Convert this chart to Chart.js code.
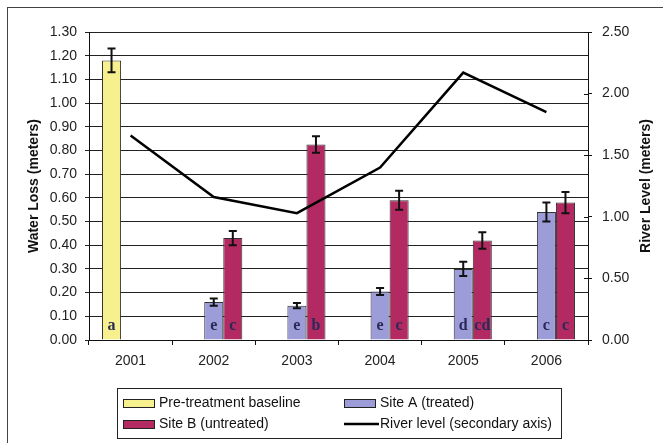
<!DOCTYPE html>
<html>
<head>
<meta charset="utf-8">
<script src="https://cdn.jsdelivr.net/npm/chart.js@4.4.1/dist/chart.umd.min.js"></script>
<style>
  html, body { margin: 0; padding: 0; background: #fff; }
  #wrap { width: 663px; height: 443px; position: relative; }
</style>
</head>
<body>
<div id="wrap"><canvas id="waterChart" width="663" height="443"></canvas></div>
<script>
// data
var years = ['2001', '2002', '2003', '2004', '2005', '2006'];

var baseline    = [1.18, null, null, null, null, null];
var baselineErr = [0.05, null, null, null, null, null];
var baselineTag = ['a', null, null, null, null, null];

var siteA    = [null, 0.16, 0.145, 0.205, 0.30, 0.54];
var siteAErr = [null, 0.015, 0.011, 0.015, 0.03, 0.04];
var siteATag = [null, 'e', 'e', 'e', 'd', 'c'];

var siteB    = [null, 0.43, 0.825, 0.59, 0.42, 0.58];
var siteBErr = [null, 0.03, 0.035, 0.04, 0.035, 0.045];
var siteBTag = [null, 'c', 'b', 'c', 'cd', 'c'];

var riverLevel = [1.66, 1.16, 1.03, 1.40, 2.17, 1.85];

var FONT = "'Liberation Sans', Arial, sans-serif";

// frame + axis titles + right-axis cross ticks
var decorPlugin = {
    id: 'decor',
    beforeDraw: function (chart) {
        var ctx = chart.ctx;
        ctx.save();
        ctx.fillStyle = '#fff';
        ctx.fillRect(0, 0, chart.width, chart.height);
        ctx.strokeStyle = '#444';
        ctx.lineWidth = 1;
        ctx.strokeRect(7.5, 7.5, 700, 500);
        ctx.restore();
    },
    afterDraw: function (chart) {
        var ctx = chart.ctx, area = chart.chartArea;
        var mid = (area.top + area.bottom) / 2;
        ctx.save();
        ctx.fillStyle = '#111';
        ctx.font = 'bold 14px ' + FONT;
        ctx.textAlign = 'center';
        ctx.textBaseline = 'middle';
        ctx.translate(34, mid);
        ctx.rotate(-Math.PI / 2);
        ctx.fillText('Water Loss (meters)', 0, 0);
        ctx.restore();

        ctx.save();
        ctx.fillStyle = '#111';
        ctx.font = 'bold 14px ' + FONT;
        ctx.textAlign = 'center';
        ctx.textBaseline = 'middle';
        ctx.translate(646, mid);
        ctx.rotate(-Math.PI / 2);
        ctx.fillText('River Level (meters)', 0, 0);
        ctx.restore();

        // inner half of the right axis ticks
        var y1 = chart.scales.y1;
        ctx.save();
        ctx.strokeStyle = '#111';
        ctx.lineWidth = 1;
        y1.ticks.forEach(function (t) {
            var py = Math.round(y1.getPixelForValue(t.value)) + 0.5;
            ctx.beginPath();
            ctx.moveTo(area.right - 4, py);
            ctx.lineTo(area.right, py);
            ctx.stroke();
        });
        ctx.restore();
    }
};

// error bars and letter tags on the bars
var errPlugin = {
    id: 'errBars',
    afterDatasetsDraw: function (chart) {
        var ctx = chart.ctx, y = chart.scales.y;
        var errs = [baselineErr, siteAErr, siteBErr];
        var tags = [baselineTag, siteATag, siteBTag];
        ctx.save();
        for (var d = 0; d < 3; d++) {
            var meta = chart.getDatasetMeta(d);
            var vals = chart.data.datasets[d].data;
            meta.data.forEach(function (bar, i) {
                if (vals[i] == null) return;
                var e = errs[d][i];
                var top = y.getPixelForValue(vals[i] + e);
                var bot = y.getPixelForValue(vals[i] - e);
                ctx.strokeStyle = '#111';
                ctx.lineWidth = 2;
                ctx.beginPath();
                ctx.moveTo(bar.x, top); ctx.lineTo(bar.x, bot);
                ctx.moveTo(bar.x - 4, top); ctx.lineTo(bar.x + 4, top);
                ctx.moveTo(bar.x - 4, bot); ctx.lineTo(bar.x + 4, bot);
                ctx.stroke();

                if (tags[d][i]) {
                    ctx.fillStyle = '#2a2a58';
                    ctx.font = "bold 16px 'Liberation Serif', 'Times New Roman', serif";
                    ctx.textAlign = 'center';
                    ctx.textBaseline = 'middle';
                    ctx.fillText(tags[d][i], bar.x, y.getPixelForValue(0) - 14);
                }
            });
        }
        ctx.restore();
    }
};

// boxed two-column legend
var legendPlugin = {
    id: 'boxLegend',
    afterDraw: function (chart) {
        var ctx = chart.ctx;
        var cols = [123, 344], rows = [403, 424];
        ctx.save();
        ctx.fillStyle = '#fff';
        ctx.fillRect(117, 388, 444, 50);
        ctx.strokeStyle = '#222';
        ctx.lineWidth = 1;
        ctx.strokeRect(117.5, 388.5, 444, 50);
        ctx.font = '14px ' + FONT;
        ctx.textBaseline = 'middle';
        chart.data.datasets.forEach(function (ds, k) {
            var x = cols[k % 2], yy = rows[Math.floor(k / 2)];
            if (ds.type === 'line') {
                ctx.strokeStyle = '#000';
                ctx.lineWidth = 2.5;
                ctx.beginPath();
                ctx.moveTo(x, yy); ctx.lineTo(x + 35, yy);
                ctx.stroke();
            } else {
                ctx.fillStyle = ds.backgroundColor;
                ctx.fillRect(x, yy - 4, 31, 8);
                ctx.strokeStyle = '#222';
                ctx.lineWidth = 1;
                ctx.strokeRect(x + 0.5, yy - 3.5, 31, 8);
            }
            ctx.fillStyle = '#111';
            ctx.fillText(ds.label, x + 36, yy);
        });
        ctx.restore();
    }
};

var ctx = document.getElementById('waterChart');
new Chart(ctx, {
    data: {
        labels: years,
        datasets: [
            { type: 'bar', label: 'Pre-treatment baseline', data: baseline,
              backgroundColor: '#f6f08e', borderColor: '#333', borderWidth: 1, order: 1 },
            { type: 'bar', label: 'Site A (treated)', data: siteA,
              backgroundColor: '#9c9cd8', borderColor: '#333', borderWidth: 1, order: 1 },
            { type: 'bar', label: 'Site B (untreated)', data: siteB,
              backgroundColor: '#b32a62', borderColor: '#333', borderWidth: 1, order: 1 },
            { type: 'line', label: 'River level (secondary axis)', data: riverLevel,
              yAxisID: 'y1', borderColor: '#000', borderWidth: 2.5, pointRadius: 0,
              tension: 0, fill: false, order: 0 }
        ]
    },
    options: {
        responsive: false,
        animation: false,
        events: [],
        datasets: { bar: { categoryPercentage: 0.687, barPercentage: 1.0 } },
        layout: { padding: { top: 32, bottom: 75, left: 0, right: 0 } },
        plugins: { legend: { display: false }, tooltip: { enabled: false } },
        scales: {
            x: {
                offset: true,
                grid: { offset: true, drawOnChartArea: false, color: '#111', tickLength: 5 },
                border: { color: '#111' },
                ticks: { color: '#222', font: { family: FONT, size: 14 }, padding: 8 },
                afterFit: function (s) { s.height = 28; }
            },
            y: {
                position: 'left',
                min: 0, max: 1.3,
                ticks: { stepSize: 0.1, color: '#222', font: { family: FONT, size: 14 }, padding: 8,
                         callback: function (v) { return v.toFixed(2); } },
                grid: { color: '#222', tickLength: 4 },
                border: { color: '#111' },
                afterFit: function (s) { s.width = 89; }
            },
            y1: {
                position: 'right',
                min: 0, max: 2.5,
                ticks: { stepSize: 0.5, color: '#222', font: { family: FONT, size: 14 }, padding: 10,
                         callback: function (v) { return v.toFixed(2); } },
                grid: { drawOnChartArea: false, color: '#111', tickLength: 4 },
                border: { color: '#111' },
                afterFit: function (s) { s.width = 75; }
            }
        }
    },
    plugins: [decorPlugin, errPlugin, legendPlugin]
});
</script>
</body>
</html>
